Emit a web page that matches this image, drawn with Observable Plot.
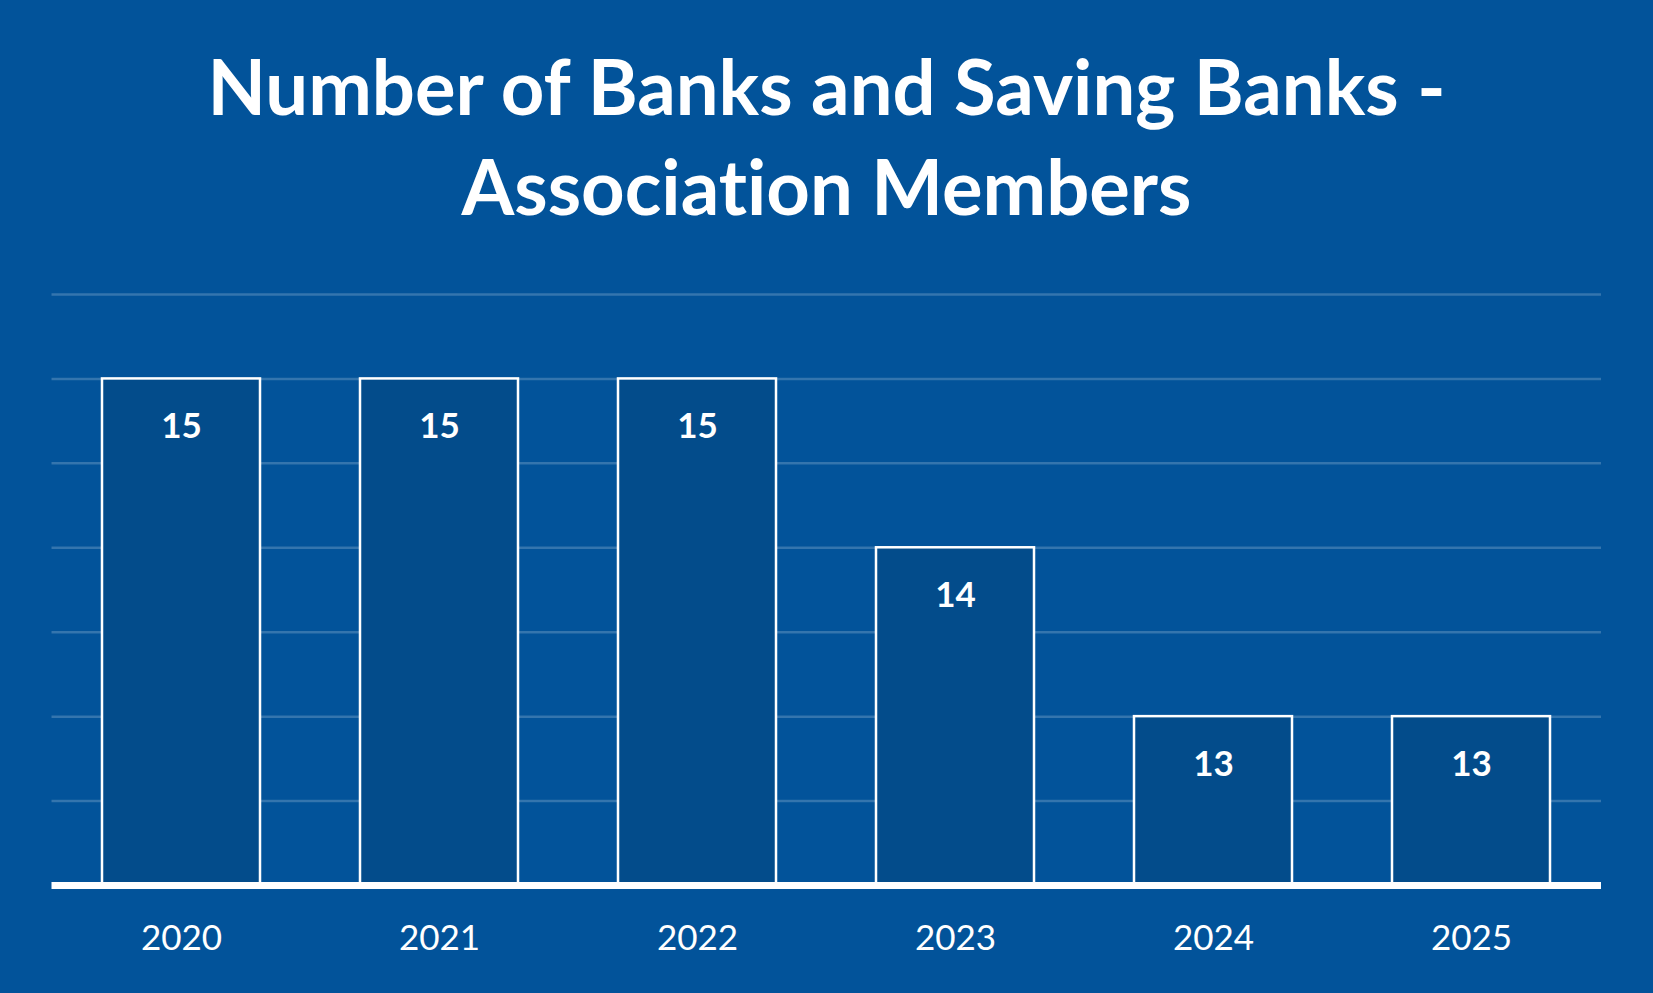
<!DOCTYPE html>
<html>
<head>
<meta charset="utf-8">
<script src="https://cdn.jsdelivr.net/npm/d3@7"></script>
<script src="https://cdn.jsdelivr.net/npm/@observablehq/plot@0.6"></script>
<style>
  html, body { margin: 0; padding: 0; background: #02539A; width: 1653px; height: 993px; overflow: hidden; }
  #title { box-sizing: border-box; height: 260px; padding-top: 36px; text-align: center; color: #fff;
    font-family: Lato, "Open Sans", sans-serif; font-weight: 700; font-size: 76px; line-height: 100px;
    font-variant-ligatures: none; font-feature-settings: "liga" 0; }
  #chart svg { display: block; }
</style>
</head>
<body>
<div id="title">Number of Banks and Saving Banks -<br>Association Members</div>
<div id="chart"></div>
<script>
const years = ["2020", "2021", "2022", "2023", "2024", "2025"];
const banks = [15, 15, 15, 14, 13, 13];
const gridValues = [12.5, 13, 13.5, 14, 14.5, 15, 15.5];

const data = years.map((y, i) => ({year: y, value: banks[i]}));

const chart = Plot.plot({
  width: 1653,
  height: 733,
  marginLeft: 51.5,
  marginRight: 52,
  marginTop: 34,
  marginBottom: 108,
  style: {background: "transparent", fontFamily: "Lato, 'Open Sans', sans-serif", color: "#fff"},
  x: {domain: years, paddingInner: 0.388, paddingOuter: 0.194, label: null},
  y: {domain: [12, 15.5], label: null},
  marks: [
    Plot.ruleY(gridValues, {stroke: "#ffffff", strokeOpacity: 0.2, strokeWidth: 2.5}),
    Plot.barY(data, {x: "year", y1: 12, y2: "value", fill: "#034C8B", stroke: "#ffffff", strokeWidth: 2.5}),
    Plot.text(data, {x: "year", y: "value", text: d => String(d.value), dy: 48, fill: "#fff",
      fontSize: 35, fontWeight: 700, lineAnchor: "middle"}),
    Plot.ruleY([12], {stroke: "#ffffff", strokeWidth: 7}),
    Plot.axisX({tickSize: 0, tickPadding: 40, fontSize: 35, fill: "#fff", label: null}),
    Plot.axisY({ticks: [], label: null})
  ]
});
document.getElementById("chart").appendChild(chart);
</script>
</body>
</html>
